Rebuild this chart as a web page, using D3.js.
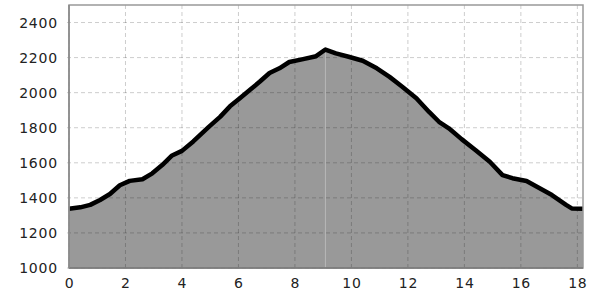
<!DOCTYPE html>
<html>
<head>
<meta charset="utf-8">
<script src="https://cdn.jsdelivr.net/npm/d3@7"></script>
<style>
  html, body { margin: 0; padding: 0; background: #fff; overflow: hidden; }
  svg { display: block; }
  svg text { font-family: "DejaVu Sans", sans-serif; font-size: 14px; fill: #222; }
</style>
</head>
<body>
<div id="chart"></div>
<script>
'use strict';

// Elevation profile: distance (km) vs altitude (m)
const distance = [0, 0.4, 0.75, 1.1, 1.45, 1.8, 2.15, 2.6, 2.95, 3.3, 3.65, 4.0, 4.4, 4.95, 5.35, 5.7,
    6.05, 6.4, 6.75, 7.1, 7.45, 7.8, 8.25, 8.75, 9.08, 9.45, 9.9, 10.4, 10.9, 11.35, 11.8, 12.3,
    12.75, 13.1, 13.45, 13.9, 14.4, 14.9, 15.35, 15.7, 16.2, 16.65, 17.1, 17.6, 17.8, 18.2];
const elevation = [1338, 1346, 1360, 1388, 1422, 1472, 1497, 1506, 1540, 1587, 1642, 1668, 1722, 1805, 1862, 1922,
    1968, 2015, 2062, 2112, 2139, 2175, 2190, 2208, 2246, 2224, 2205, 2182, 2139, 2090, 2034, 1968,
    1890, 1834, 1797, 1735, 1672, 1606, 1530, 1512, 1496, 1456, 1416, 1360, 1340, 1338];
const xTicks = [0, 2, 4, 6, 8, 10, 12, 14, 16, 18];
const yTicks = [1000, 1200, 1400, 1600, 1800, 2000, 2200, 2400];
const xDomain = [0, 18.2];
const yDomain = [1000, 2500];

const width = 600, height = 298;
const margin = { top: 5, right: 17, bottom: 30, left: 69 };
const innerWidth = width - margin.left - margin.right;
const innerHeight = height - margin.top - margin.bottom;

const data = distance.map((d, i) => ({ x: d, y: elevation[i] }));
const peak = data.reduce((a, b) => (b.y > a.y ? b : a));

const svg = d3.select("#chart").append("svg")
    .attr("width", width)
    .attr("height", height);

const chart = svg.append("g")
    .attr("transform", `translate(${margin.left},${margin.top})`);

const xScale = d3.scaleLinear().domain(xDomain).range([0, innerWidth]);
const yScale = d3.scaleLinear().domain(yDomain).range([innerHeight, 0]);

// filled profile
const area = d3.area()
    .x(d => xScale(d.x))
    .y0(yScale(yDomain[0]))
    .y1(d => yScale(d.y));

chart.append("path")
    .datum(data)
    .attr("d", area)
    .attr("fill", "#999999");

// dashed grid, drawn over the fill
const grid = chart.append("g").attr("class", "grid");

grid.selectAll(".gx")
    .data(xTicks)
    .enter().append("line")
    .attr("x1", d => xScale(d)).attr("x2", d => xScale(d))
    .attr("y1", 0).attr("y2", innerHeight + 2)
    .attr("stroke", "rgba(0,0,0,0.2)")
    .attr("stroke-dasharray", "4 3");

grid.selectAll(".gy")
    .data(yTicks)
    .enter().append("line")
    .attr("x1", -2).attr("x2", innerWidth)
    .attr("y1", d => yScale(d)).attr("y2", d => yScale(d))
    .attr("stroke", "rgba(0,0,0,0.2)")
    .attr("stroke-dasharray", "4 3");

// marker at the summit
chart.append("line")
    .attr("x1", xScale(peak.x)).attr("x2", xScale(peak.x))
    .attr("y1", yScale(peak.y)).attr("y2", innerHeight)
    .attr("stroke", "#b8b8b8")
    .attr("stroke-width", 1);

// profile line
const line = d3.line()
    .x(d => xScale(d.x))
    .y(d => yScale(d.y));

chart.append("path")
    .datum(data)
    .attr("d", line)
    .attr("fill", "none")
    .attr("stroke", "#000")
    .attr("stroke-width", 4.5)
    .attr("stroke-linejoin", "round");

// frame
chart.append("rect")
    .attr("x", 0).attr("y", 0)
    .attr("width", innerWidth).attr("height", innerHeight)
    .attr("fill", "none")
    .attr("stroke", "#999")
    .attr("stroke-width", 1.5);

chart.append("line")
    .attr("x1", 0).attr("x2", innerWidth)
    .attr("y1", innerHeight).attr("y2", innerHeight)
    .attr("stroke", "#777")
    .attr("stroke-width", 1.5);

chart.append("line")
    .attr("x1", 0).attr("x2", 0)
    .attr("y1", 0).attr("y2", innerHeight)
    .attr("stroke", "#888")
    .attr("stroke-width", 1.5);

// axes (labels only, lines drawn above)
const axisX = chart.append("g")
    .attr("transform", `translate(0,${innerHeight})`)
    .call(d3.axisBottom(xScale).tickValues(xTicks).tickFormat(d3.format("d")).tickSize(0).tickPadding(10));

const axisY = chart.append("g")
    .call(d3.axisLeft(yScale).tickValues(yTicks).tickFormat(d3.format("d")).tickSize(0).tickPadding(11));

[axisX, axisY].forEach(ax => {
    ax.select(".domain").remove();
    ax.selectAll("text")
        .attr("font-family", null)
        .attr("font-size", null)
        .attr("fill", "#222")
        .attr("letter-spacing", "0.8px");
});
</script>
</body>
</html>
